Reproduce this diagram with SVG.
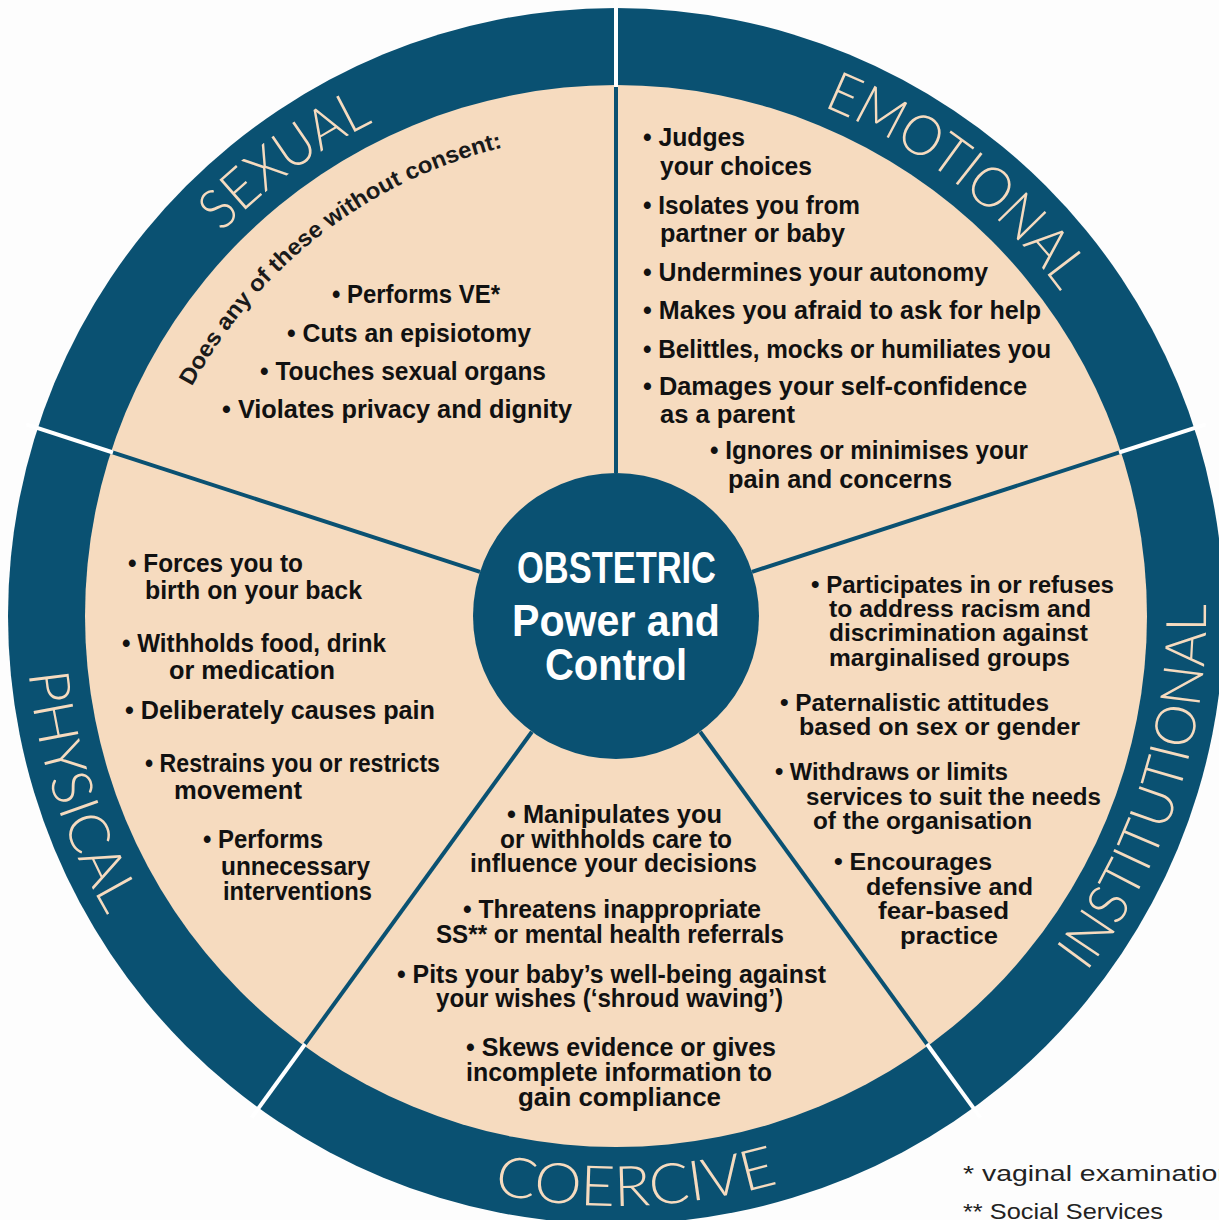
<svg xmlns="http://www.w3.org/2000/svg" xmlns:xlink="http://www.w3.org/1999/xlink" width="1219" height="1220" viewBox="0 0 1219 1220">
  <style>
    .ring { fill: #0a5172; }
    .field { fill: #f6dbbf; }
    .hub { fill: #0a5172; }
    .spoke { stroke: #0a5172; stroke-width: 4; }
    .gap { stroke: #ffffff; stroke-width: 4; }
    .band { font-family: Lato, "Liberation Sans", sans-serif; font-weight: 300; font-size: 56px; fill: #f6dbbf; }
    .item { font-family: "Liberation Sans", Arial, sans-serif; font-weight: bold; font-size: 25px; fill: #111111; }
    .small { font-size: 23px; }
    .lead { font-family: "Liberation Sans", Arial, sans-serif; font-weight: bold; font-size: 23px; fill: #1a1a1a; }
    .title { font-family: "Liberation Sans", Arial, sans-serif; font-weight: bold; font-size: 44px; fill: #ffffff; text-anchor: middle; }
    .note { font-family: "Liberation Sans", Arial, sans-serif; font-size: 22px; fill: #222222; }
  </style>
  <defs>
    <!-- baselines for the ring labels (top ones run clockwise, lower ones anticlockwise) -->
    <path id="arcSexual" d="M 92.9 446 A 550 550 0 0 1 616 66"/>
    <path id="arcEmotional" d="M 635.2 66.3 A 550 550 0 0 1 1144.7 464.4"/>
    <path id="arcPhysical" d="M 54.9 433.7 A 590 590 0 0 0 269.2 1093.3"/>
    <path id="arcInstitutional" d="M 962.8 1093.3 A 590 590 0 0 0 1177.1 433.7"/>
    <path id="arcCoercive" d="M 286.1 1105.1 A 590 590 0 0 0 979.2 1080.9"/>
    <path id="arcConsent" d="M 153.6 479.9 A 482 482 0 0 1 602.5 134.2"/>
  </defs>

  <rect width="1219" height="1220" fill="#fdfdfd"/>

  <!-- wheel body -->
  <g id="wheel">
    <circle class="ring" cx="616" cy="616" r="608"/>
    <circle class="field" cx="616" cy="616" r="531"/>
  </g>

  <!-- spokes between the sectors -->
  <g id="connectors">
    <line class="spoke" x1="616" y1="473" x2="616" y2="85"/>
    <line class="spoke" x1="752" y1="571.8" x2="1121" y2="451.9"/>
    <line class="spoke" x1="700.1" y1="731.7" x2="928.1" y2="1045.6"/>
    <line class="spoke" x1="531.9" y1="731.7" x2="303.9" y2="1045.6"/>
    <line class="spoke" x1="480" y1="571.8" x2="111" y2="451.9"/>
    <line class="gap" x1="616" y1="87" x2="616" y2="-4"/>
    <line class="gap" x1="1119" y1="452.5" x2="1205.7" y2="424.4"/>
    <line class="gap" x1="926.9" y1="1044" x2="980.4" y2="1117.6"/>
    <line class="gap" x1="305.1" y1="1044" x2="251.6" y2="1117.6"/>
    <line class="gap" x1="113" y1="452.5" x2="26.3" y2="424.4"/>
  </g>

  <g id="sexual">
    <text class="band"><textPath xlink:href="#arcSexual" href="#arcSexual" startOffset="50%" text-anchor="middle" textLength="188" lengthAdjust="spacingAndGlyphs">SEXUAL</textPath></text>
    <text class="lead"><textPath xlink:href="#arcConsent" href="#arcConsent" startOffset="50%" text-anchor="middle" textLength="404" lengthAdjust="spacingAndGlyphs">Does any of these without consent:</textPath></text>
    <text class="item" x="332" y="303" textLength="168" lengthAdjust="spacingAndGlyphs">• Performs VE*</text>
    <text class="item" x="287" y="342" textLength="244" lengthAdjust="spacingAndGlyphs">• Cuts an episiotomy</text>
    <text class="item" x="260" y="380" textLength="286" lengthAdjust="spacingAndGlyphs">• Touches sexual organs</text>
    <text class="item" x="222" y="418" textLength="350" lengthAdjust="spacingAndGlyphs">• Violates privacy and dignity</text>
  </g>

  <g id="emotional">
    <text class="band"><textPath xlink:href="#arcEmotional" href="#arcEmotional" startOffset="50%" text-anchor="middle" textLength="305" lengthAdjust="spacingAndGlyphs">EMOTIONAL</textPath></text>
    <text class="item" x="643" y="146" textLength="102" lengthAdjust="spacingAndGlyphs">• Judges</text>
    <text class="item" x="660" y="175" textLength="152" lengthAdjust="spacingAndGlyphs">your choices</text>
    <text class="item" x="643" y="214" textLength="217" lengthAdjust="spacingAndGlyphs">• Isolates you from</text>
    <text class="item" x="660" y="242" textLength="185" lengthAdjust="spacingAndGlyphs">partner or baby</text>
    <text class="item" x="643" y="281" textLength="345" lengthAdjust="spacingAndGlyphs">• Undermines your autonomy</text>
    <text class="item" x="643" y="319" textLength="398" lengthAdjust="spacingAndGlyphs">• Makes you afraid to ask for help</text>
    <text class="item" x="643" y="358" textLength="408" lengthAdjust="spacingAndGlyphs">• Belittles, mocks or humiliates you</text>
    <text class="item" x="643" y="395" textLength="384" lengthAdjust="spacingAndGlyphs">• Damages your self-confidence</text>
    <text class="item" x="660" y="423" textLength="135" lengthAdjust="spacingAndGlyphs">as a parent</text>
    <text class="item" x="710" y="459" textLength="318" lengthAdjust="spacingAndGlyphs">• Ignores or minimises your</text>
    <text class="item" x="728" y="488" textLength="224" lengthAdjust="spacingAndGlyphs">pain and concerns</text>
  </g>

  <g id="physical">
    <text class="band"><textPath xlink:href="#arcPhysical" href="#arcPhysical" startOffset="50%" text-anchor="middle" textLength="257" lengthAdjust="spacingAndGlyphs">PHYSICAL</textPath></text>
    <text class="item" x="128" y="572" textLength="175" lengthAdjust="spacingAndGlyphs">• Forces you to</text>
    <text class="item" x="145" y="599" textLength="217" lengthAdjust="spacingAndGlyphs">birth on your back</text>
    <text class="item" x="122" y="652" textLength="264" lengthAdjust="spacingAndGlyphs">• Withholds food, drink</text>
    <text class="item" x="169" y="679" textLength="166" lengthAdjust="spacingAndGlyphs">or medication</text>
    <text class="item" x="125" y="719" textLength="310" lengthAdjust="spacingAndGlyphs">• Deliberately causes pain</text>
    <text class="item" x="145" y="772" textLength="295" lengthAdjust="spacingAndGlyphs">• Restrains you or restricts</text>
    <text class="item" x="174" y="799" textLength="128" lengthAdjust="spacingAndGlyphs">movement</text>
    <text class="item" x="203" y="848" textLength="120" lengthAdjust="spacingAndGlyphs">• Performs</text>
    <text class="item" x="221" y="875" textLength="149" lengthAdjust="spacingAndGlyphs">unnecessary</text>
    <text class="item" x="223" y="900" textLength="149" lengthAdjust="spacingAndGlyphs">interventions</text>
  </g>

  <g id="institutional">
    <text class="band"><textPath xlink:href="#arcInstitutional" href="#arcInstitutional" startOffset="50%" text-anchor="middle" textLength="394" lengthAdjust="spacingAndGlyphs">INSTITUTIONAL</textPath></text>
    <text class="item small" x="811" y="593" textLength="303" lengthAdjust="spacingAndGlyphs">• Participates in or refuses</text>
    <text class="item small" x="829" y="617" textLength="262" lengthAdjust="spacingAndGlyphs">to address racism and</text>
    <text class="item small" x="829" y="641" textLength="259" lengthAdjust="spacingAndGlyphs">discrimination against</text>
    <text class="item small" x="829" y="666" textLength="241" lengthAdjust="spacingAndGlyphs">marginalised groups</text>
    <text class="item small" x="780" y="711" textLength="269" lengthAdjust="spacingAndGlyphs">• Paternalistic attitudes</text>
    <text class="item small" x="799" y="735" textLength="281" lengthAdjust="spacingAndGlyphs">based on sex or gender</text>
    <text class="item small" x="775" y="780" textLength="233" lengthAdjust="spacingAndGlyphs">• Withdraws or limits</text>
    <text class="item small" x="806" y="805" textLength="295" lengthAdjust="spacingAndGlyphs">services to suit the needs</text>
    <text class="item small" x="813" y="829" textLength="219" lengthAdjust="spacingAndGlyphs">of the organisation</text>
    <text class="item small" x="834" y="870" textLength="158" lengthAdjust="spacingAndGlyphs">• Encourages</text>
    <text class="item small" x="866" y="895" textLength="167" lengthAdjust="spacingAndGlyphs">defensive and</text>
    <text class="item small" x="878" y="919" textLength="131" lengthAdjust="spacingAndGlyphs">fear-based</text>
    <text class="item small" x="900" y="944" textLength="98" lengthAdjust="spacingAndGlyphs">practice</text>
  </g>

  <g id="coercive">
    <text class="band"><textPath xlink:href="#arcCoercive" href="#arcCoercive" startOffset="50%" text-anchor="middle" textLength="288" lengthAdjust="spacingAndGlyphs">COERCIVE</textPath></text>
    <text class="item" x="507" y="823" textLength="215" lengthAdjust="spacingAndGlyphs">• Manipulates you</text>
    <text class="item" x="500" y="848" textLength="232" lengthAdjust="spacingAndGlyphs">or withholds care to</text>
    <text class="item" x="470" y="872" textLength="287" lengthAdjust="spacingAndGlyphs">influence your decisions</text>
    <text class="item" x="463" y="918" textLength="298" lengthAdjust="spacingAndGlyphs">• Threatens inappropriate</text>
    <text class="item" x="436" y="943" textLength="348" lengthAdjust="spacingAndGlyphs">SS** or mental health referrals</text>
    <text class="item" x="397" y="983" textLength="429" lengthAdjust="spacingAndGlyphs">• Pits your baby’s well-being against</text>
    <text class="item" x="436" y="1007" textLength="347" lengthAdjust="spacingAndGlyphs">your wishes (‘shroud waving’)</text>
    <text class="item" x="466" y="1056" textLength="310" lengthAdjust="spacingAndGlyphs">• Skews evidence or gives</text>
    <text class="item" x="466" y="1081" textLength="306" lengthAdjust="spacingAndGlyphs">incomplete information to</text>
    <text class="item" x="518" y="1106" textLength="203" lengthAdjust="spacingAndGlyphs">gain compliance</text>
  </g>

  <g id="hub">
    <circle class="hub" cx="616" cy="616" r="143"/>
    <text class="title" x="616.5" y="583" textLength="199" lengthAdjust="spacingAndGlyphs">OBSTETRIC</text>
    <text class="title" x="616" y="636" textLength="208" lengthAdjust="spacingAndGlyphs">Power and</text>
    <text class="title" x="616" y="680" textLength="142" lengthAdjust="spacingAndGlyphs">Control</text>
  </g>

  <g id="notes">
    <text class="note" x="963" y="1181" textLength="270" lengthAdjust="spacingAndGlyphs">* vaginal examination</text>
    <text class="note" x="963" y="1219" textLength="200" lengthAdjust="spacingAndGlyphs">** Social Services</text>
  </g>
</svg>
